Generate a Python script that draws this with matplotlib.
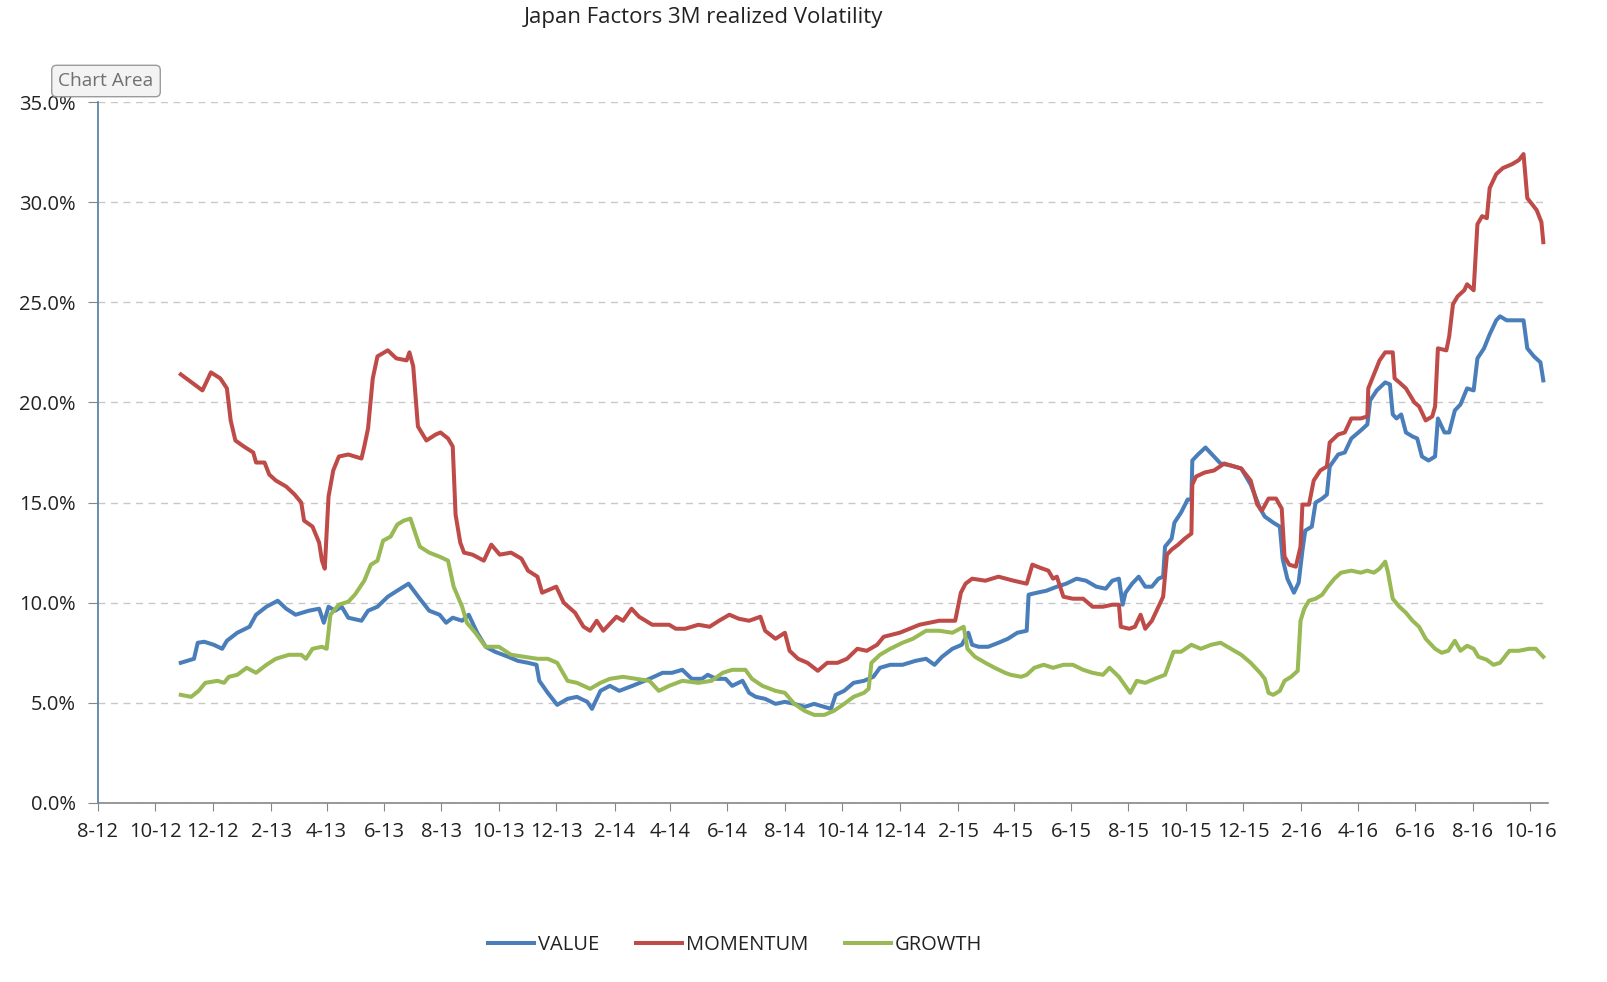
import matplotlib
matplotlib.use("Agg")
import matplotlib.pyplot as plt
import matplotlib.dates as mdates
from matplotlib.ticker import FuncFormatter, MultipleLocator
import pandas as pd

plt.rcParams['font.family'] = ['Open Sans', 'DejaVu Sans']

title = "Japan Factors 3M realized Volatility"
series_names = ["VALUE", "MOMENTUM", "GROWTH"]
series_colors = ["#4A7EBB", "#BE4B48", "#98B954"]

value_dates = [
    "2012-10-28","2012-11-04","2012-11-11","2012-11-15","2012-11-22","2012-12-02","2012-12-11","2012-12-16","2012-12-27",
    "2013-01-09","2013-01-16","2013-01-27","2013-02-08","2013-02-17","2013-02-27","2013-03-13","2013-03-24","2013-03-29",
    "2013-04-03","2013-04-10","2013-04-17","2013-04-24","2013-05-08","2013-05-15","2013-05-25","2013-06-05","2013-06-15",
    "2013-06-27","2013-07-09","2013-07-19","2013-07-30","2013-08-06","2013-08-13","2013-08-23","2013-08-30","2013-09-08",
    "2013-09-17","2013-09-27","2013-10-11","2013-10-21","2013-11-01","2013-11-10","2013-11-13","2013-11-22","2013-12-02",
    "2013-12-13","2013-12-23","2014-01-03","2014-01-08","2014-01-17","2014-01-27","2014-02-06","2014-02-20","2014-03-10",
    "2014-03-24","2014-04-03","2014-04-14","2014-04-24","2014-05-05","2014-05-11","2014-05-20","2014-05-30","2014-06-06",
    "2014-06-17","2014-06-24","2014-07-01","2014-07-11","2014-07-22","2014-08-01","2014-08-11","2014-08-22","2014-09-01",
    "2014-09-12","2014-09-19","2014-09-24","2014-10-03","2014-10-13","2014-10-24","2014-11-03","2014-11-10","2014-11-21",
    "2014-12-04","2014-12-18","2014-12-29","2015-01-07","2015-01-15","2015-01-26","2015-02-05","2015-02-12","2015-02-16",
    "2015-02-23","2015-03-05","2015-03-16","2015-03-26","2015-04-05","2015-04-15","2015-04-17","2015-04-26","2015-05-06",
    "2015-05-17","2015-05-27","2015-06-07","2015-06-17","2015-06-28","2015-07-08","2015-07-15","2015-07-22","2015-07-26",
    "2015-07-29","2015-08-05","2015-08-12","2015-08-19","2015-08-26","2015-09-02","2015-09-07","2015-09-09","2015-09-16",
    "2015-09-19","2015-09-26","2015-10-03","2015-10-07","2015-10-08","2015-10-14","2015-10-22","2015-10-29","2015-11-07",
    "2015-11-18","2015-11-29","2015-12-09","2015-12-19","2015-12-24","2016-01-02","2016-01-09","2016-01-12","2016-01-17",
    "2016-01-24","2016-01-29","2016-02-02","2016-02-05","2016-02-12","2016-02-16","2016-02-23","2016-02-28","2016-03-02",
    "2016-03-11","2016-03-18","2016-03-25","2016-04-04","2016-04-11","2016-04-14","2016-04-21","2016-04-30","2016-05-05",
    "2016-05-08","2016-05-12","2016-05-17","2016-05-22","2016-05-29","2016-06-03","2016-06-08","2016-06-15","2016-06-22",
    "2016-06-25","2016-07-02","2016-07-07","2016-07-13","2016-07-19","2016-07-26","2016-08-02","2016-08-06","2016-08-13",
    "2016-08-19","2016-08-26","2016-08-30","2016-09-06","2016-09-16","2016-09-24","2016-09-28","2016-10-05","2016-10-12",
    "2016-10-15"]
value_vals = [
    7.0,7.1,7.2,8.0,8.05,7.9,7.7,8.1,8.5,
    8.8,9.4,9.8,10.1,9.7,9.4,9.6,9.7,9.0,
    9.8,9.6,9.8,9.25,9.1,9.6,9.8,10.3,10.6,
    10.95,10.2,9.6,9.4,9.0,9.25,9.1,9.4,8.5,
    7.8,7.55,7.3,7.1,7.0,6.9,6.1,5.5,4.9,
    5.2,5.3,5.05,4.7,5.6,5.85,5.6,5.85,6.2,
    6.5,6.5,6.65,6.2,6.2,6.4,6.2,6.2,5.85,
    6.1,5.5,5.3,5.2,4.95,5.05,4.95,4.8,4.95,
    4.8,4.7,5.4,5.6,6.0,6.1,6.3,6.75,6.9,
    6.9,7.1,7.2,6.9,7.3,7.7,7.9,8.5,7.9,
    7.8,7.8,8.0,8.2,8.5,8.6,10.4,10.5,10.6,
    10.8,10.95,11.2,11.1,10.8,10.7,11.1,11.2,9.9,
    10.5,10.95,11.3,10.8,10.8,11.2,11.3,12.8,13.2,
    14.0,14.5,15.15,15.15,17.1,17.4,17.75,17.4,16.95,
    16.85,16.7,15.9,14.7,14.3,14.0,13.8,12.2,11.2,
    10.5,11.0,12.6,13.6,13.8,15.0,15.2,15.4,16.8,
    17.4,17.5,18.2,18.6,18.9,20.1,20.6,21.0,20.9,
    19.4,19.2,19.4,18.5,18.3,18.2,17.3,17.1,17.3,
    19.2,18.5,18.5,19.6,19.9,20.7,20.6,22.2,22.7,
    23.4,24.1,24.3,24.1,24.1,24.1,22.7,22.3,22.0,
    21.1]

momentum_dates = [
    "2012-10-28","2012-11-20","2012-11-29","2012-12-09","2012-12-16","2012-12-20","2012-12-25","2013-01-03","2013-01-13",
    "2013-01-16","2013-01-25","2013-01-30","2013-02-06","2013-02-17","2013-02-26","2013-03-05","2013-03-08","2013-03-17",
    "2013-03-24","2013-03-27","2013-03-30","2013-04-03","2013-04-08","2013-04-14","2013-04-24","2013-05-08","2013-05-11",
    "2013-05-15","2013-05-20","2013-05-25","2013-06-05","2013-06-14","2013-06-25","2013-06-28","2013-07-02","2013-07-07",
    "2013-07-16","2013-07-26","2013-07-31","2013-08-08","2013-08-13","2013-08-16","2013-08-21","2013-08-25","2013-09-03",
    "2013-09-15","2013-09-23","2013-10-02","2013-10-14","2013-10-25","2013-11-01","2013-11-11","2013-11-16","2013-12-01",
    "2013-12-09","2013-12-21","2013-12-30","2014-01-06","2014-01-13","2014-01-20","2014-02-03","2014-02-10","2014-02-19",
    "2014-02-27","2014-03-13","2014-03-31","2014-04-07","2014-04-17","2014-05-01","2014-05-13","2014-05-23","2014-06-03",
    "2014-06-13","2014-06-24","2014-07-06","2014-07-11","2014-07-22","2014-08-01","2014-08-06","2014-08-15","2014-08-25",
    "2014-09-05","2014-09-15","2014-09-26","2014-10-06","2014-10-17","2014-10-27","2014-11-07","2014-11-14","2014-12-01",
    "2014-12-22","2015-01-12","2015-01-29","2015-02-04","2015-02-09","2015-02-16","2015-03-02","2015-03-16","2015-04-01",
    "2015-04-15","2015-04-21","2015-04-29","2015-05-08","2015-05-13","2015-05-17","2015-05-24","2015-06-03","2015-06-14",
    "2015-06-24","2015-07-05","2015-07-15","2015-07-22","2015-07-24","2015-08-02","2015-08-08","2015-08-14","2015-08-19",
    "2015-08-26","2015-09-02","2015-09-07","2015-09-11","2015-09-16","2015-09-23","2015-09-30","2015-10-07","2015-10-08",
    "2015-10-12","2015-10-21","2015-10-31","2015-11-11","2015-11-18","2015-11-29","2015-12-09","2015-12-16","2015-12-21",
    "2015-12-28","2016-01-05","2016-01-11","2016-01-14","2016-01-19","2016-01-26","2016-01-31","2016-02-02","2016-02-09",
    "2016-02-14","2016-02-21","2016-02-28","2016-03-02","2016-03-11","2016-03-18","2016-03-25","2016-04-04","2016-04-11",
    "2016-04-12","2016-04-18","2016-04-24","2016-04-30","2016-05-08","2016-05-10","2016-05-15","2016-05-22","2016-05-31",
    "2016-06-05","2016-06-12","2016-06-19","2016-06-22","2016-06-25","2016-07-04","2016-07-07","2016-07-11","2016-07-16",
    "2016-07-23","2016-07-26","2016-08-02","2016-08-06","2016-08-11","2016-08-16","2016-08-19","2016-08-26","2016-09-02",
    "2016-09-12","2016-09-19","2016-09-24","2016-09-28","2016-10-03","2016-10-08","2016-10-13","2016-10-15"]
momentum_vals = [
    21.4,20.6,21.5,21.2,20.7,19.1,18.1,17.8,17.5,
    17.0,17.0,16.4,16.1,15.8,15.4,15.0,14.1,13.8,
    13.0,12.1,11.7,15.3,16.6,17.3,17.4,17.2,17.8,
    18.7,21.2,22.3,22.6,22.2,22.1,22.5,21.8,18.8,
    18.1,18.4,18.5,18.2,17.8,14.4,13.0,12.5,12.4,
    12.1,12.9,12.4,12.5,12.2,11.6,11.3,10.5,10.8,
    10.0,9.5,8.8,8.6,9.1,8.6,9.3,9.1,9.7,
    9.3,8.9,8.9,8.7,8.7,8.9,8.8,9.1,9.4,
    9.2,9.1,9.3,8.6,8.2,8.5,7.6,7.2,7.0,
    6.6,7.0,7.0,7.2,7.7,7.6,7.9,8.3,8.5,
    8.9,9.1,9.1,10.5,10.95,11.2,11.1,11.3,11.1,
    10.95,11.9,11.75,11.6,11.2,11.3,10.3,10.2,10.2,
    9.8,9.8,9.9,9.9,8.8,8.7,8.8,9.4,8.7,
    9.1,9.8,10.3,12.4,12.65,12.9,13.2,13.45,15.9,
    16.3,16.5,16.6,16.95,16.85,16.7,16.1,14.9,14.6,
    15.2,15.2,14.7,12.3,11.9,11.8,12.8,14.9,14.9,
    16.1,16.6,16.8,18.0,18.4,18.5,19.2,19.2,19.3,
    20.7,21.4,22.1,22.5,22.5,21.2,21.0,20.7,20.0,
    19.8,19.1,19.3,19.8,22.7,22.6,23.3,24.9,25.3,
    25.6,25.9,25.6,28.9,29.3,29.2,30.7,31.4,31.7,
    31.9,32.1,32.4,30.2,29.9,29.6,29.0,28.0]

growth_dates = [
    "2012-10-28","2012-11-08","2012-11-16","2012-11-23","2012-12-06","2012-12-13","2012-12-18","2012-12-27","2013-01-06",
    "2013-01-16","2013-01-27","2013-02-06","2013-02-20","2013-03-05","2013-03-10","2013-03-17","2013-03-27","2013-04-01",
    "2013-04-05","2013-04-14","2013-04-24","2013-05-01","2013-05-11","2013-05-18","2013-05-25","2013-05-31","2013-06-08",
    "2013-06-15","2013-06-22","2013-06-29","2013-07-09","2013-07-19","2013-07-30","2013-08-08","2013-08-14","2013-08-23",
    "2013-08-28","2013-09-06","2013-09-17","2013-10-01","2013-10-14","2013-10-28","2013-11-11","2013-11-22","2013-12-02",
    "2013-12-13","2013-12-23","2014-01-06","2014-01-17","2014-01-27","2014-02-10","2014-02-24","2014-03-10","2014-03-20",
    "2014-03-31","2014-04-14","2014-05-01","2014-05-15","2014-05-27","2014-06-06","2014-06-20","2014-06-27","2014-07-08",
    "2014-07-22","2014-08-01","2014-08-11","2014-08-22","2014-09-01","2014-09-12","2014-09-22","2014-10-03","2014-10-13",
    "2014-10-24","2014-10-29","2014-11-01","2014-11-10","2014-11-21","2014-12-04","2014-12-15","2014-12-29","2015-01-12",
    "2015-01-26","2015-02-07","2015-02-11","2015-02-19","2015-03-02","2015-03-12","2015-03-23","2015-03-29","2015-04-09",
    "2015-04-15","2015-04-23","2015-05-03","2015-05-13","2015-05-24","2015-06-03","2015-06-14","2015-06-24","2015-07-05",
    "2015-07-12","2015-07-22","2015-08-03","2015-08-10","2015-08-19","2015-08-29","2015-09-09","2015-09-18","2015-09-26",
    "2015-10-07","2015-10-17","2015-10-28","2015-11-07","2015-11-18","2015-11-29","2015-12-09","2015-12-19","2015-12-24",
    "2015-12-28","2016-01-02","2016-01-09","2016-01-14","2016-01-21","2016-01-28","2016-01-31","2016-02-04","2016-02-09",
    "2016-02-16","2016-02-23","2016-02-29","2016-03-07","2016-03-14","2016-03-25","2016-04-04","2016-04-11","2016-04-18",
    "2016-04-24","2016-04-30","2016-05-03","2016-05-08","2016-05-15","2016-05-22","2016-05-29","2016-06-05","2016-06-12",
    "2016-06-22","2016-06-29","2016-07-06","2016-07-13","2016-07-19","2016-07-26","2016-08-02","2016-08-07","2016-08-16",
    "2016-08-23","2016-08-30","2016-09-09","2016-09-19","2016-09-30","2016-10-07","2016-10-15"]
growth_vals = [
    5.4,5.3,5.6,6.0,6.1,6.0,6.3,6.4,6.75,
    6.5,6.9,7.2,7.4,7.4,7.2,7.7,7.8,7.7,
    9.4,9.9,10.05,10.4,11.1,11.9,12.1,13.1,13.3,
    13.9,14.1,14.2,12.8,12.5,12.3,12.1,10.8,9.8,
    9.0,8.5,7.8,7.8,7.4,7.3,7.2,7.2,7.0,
    6.1,6.0,5.7,6.0,6.2,6.3,6.2,6.1,5.6,
    5.85,6.1,6.0,6.1,6.5,6.65,6.65,6.2,5.85,
    5.6,5.5,4.95,4.6,4.4,4.4,4.6,4.95,5.3,
    5.5,5.7,7.0,7.4,7.7,8.0,8.2,8.6,8.6,
    8.5,8.8,7.7,7.3,7.0,6.75,6.5,6.4,6.3,
    6.4,6.75,6.9,6.75,6.9,6.9,6.65,6.5,6.4,
    6.75,6.3,5.5,6.1,6.0,6.2,6.4,7.55,7.55,
    7.9,7.7,7.9,8.0,7.7,7.4,7.0,6.5,6.2,
    5.5,5.4,5.6,6.1,6.3,6.6,9.1,9.7,10.1,
    10.2,10.4,10.8,11.2,11.5,11.6,11.5,11.6,11.5,
    11.7,12.05,11.5,10.2,9.8,9.5,9.1,8.8,8.2,
    7.7,7.5,7.6,8.1,7.6,7.85,7.7,7.3,7.15,
    6.9,7.0,7.6,7.6,7.7,7.7,7.3]

x_start, x_end = "2012-08-01", "2016-10-20"
y_max = 35

W, H = 1608, 982
fig = plt.figure(figsize=(W / 100, H / 100), dpi=100)
ax = fig.add_axes([98 / W, 1 - 803 / H, (1548 - 98) / W, (803 - 102) / H])

all_dates = [value_dates, momentum_dates, growth_dates]
all_vals = [value_vals, momentum_vals, growth_vals]
for name, color, d, v in zip(series_names, series_colors, all_dates, all_vals):
    ax.plot(pd.to_datetime(d), [x / 100 for x in v], color=color, lw=2.9,
            label=name, solid_joinstyle='round')

ax.set_xlim(pd.Timestamp(x_start), pd.Timestamp(x_end))
ax.set_ylim(0, y_max / 100)
ax.yaxis.set_major_locator(MultipleLocator(0.05))
ax.yaxis.set_major_formatter(FuncFormatter(lambda v, p: f"{v * 100:.1f}%"))
ax.xaxis.set_major_locator(mdates.MonthLocator(bymonth=[2, 4, 6, 8, 10, 12]))
ax.xaxis.set_major_formatter(FuncFormatter(
    lambda v, p: f"{mdates.num2date(v).month}-{mdates.num2date(v).strftime('%y')}"))

ax.grid(axis='y', color='#C8C8C8', linestyle=(0, (5, 4)), linewidth=1.0)
ax.set_axisbelow(True)
for s in ['top', 'right']:
    ax.spines[s].set_visible(False)
ax.spines['left'].set_color('#5E86A8')
ax.spines['left'].set_linewidth(1.3)
ax.spines['bottom'].set_color('#868686')
ax.spines['bottom'].set_linewidth(1.2)
ax.tick_params(axis='y', length=7, color='#868686', labelsize=14.5, labelcolor='#222222', pad=9)
ax.tick_params(axis='x', length=6, color='#868686', labelsize=14.5, labelcolor='#222222', pad=8)

fig.text(703 / W, 1 - 18 / H, title, ha='center', va='center', fontsize=16, color='#222222')

fig.legend(loc='center', bbox_to_anchor=(735 / W, 1 - 945 / H), ncol=3, frameon=False,
           fontsize=14.5, handlelength=2.3, columnspacing=1.8, handletextpad=0.2,
           labelcolor='#222222')

fig.text(106 / W, 1 - 81 / H, "Chart Area", ha='center', va='center', fontsize=13.8,
         color='#707070',
         bbox=dict(boxstyle='round,pad=0.35,rounding_size=0.25', fc='#F3F3F3', ec='#9A9A9A', lw=1))

fig.savefig("out.png", dpi=100, facecolor='white')
